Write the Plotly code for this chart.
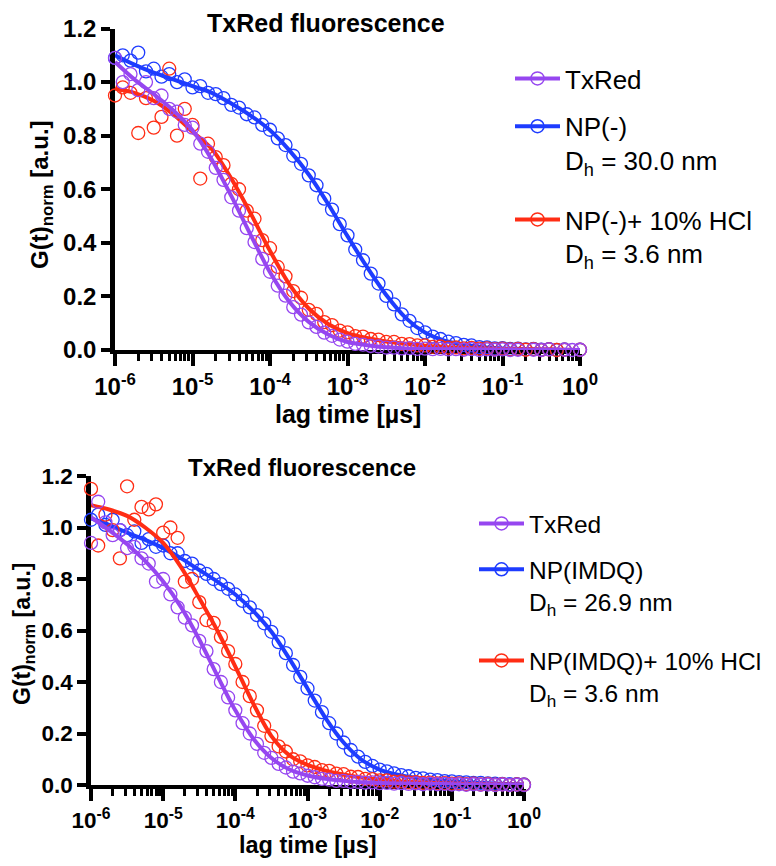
import plotly.graph_objects as go

# The page body has an 8px default margin: the figure is drawn 8px right/down.
OFFSET = 8
W, H = 760, 850
FONT = "Liberation Sans"

PURPLE = "#9646F0"
BLUE = "#1E3CFF"
RED = "#FF2D14"

# lag-time grid (log10 exponents) of the measured points and of the fitted curves
LAG_EXP = [-6.0, -5.9, -5.8, -5.7, -5.6, -5.5, -5.4, -5.3, -5.2, -5.1,
           -5.0, -4.9, -4.8, -4.7, -4.6, -4.5, -4.4, -4.3, -4.2, -4.1,
           -4.0, -3.9, -3.8, -3.7, -3.6, -3.5, -3.4, -3.3, -3.2, -3.1,
           -3.0, -2.9, -2.8, -2.7, -2.6, -2.5, -2.4, -2.3, -2.2, -2.1,
           -2.0, -1.9, -1.8, -1.7, -1.6, -1.5, -1.4, -1.3, -1.2, -1.1,
           -1.0, -0.9, -0.8, -0.7, -0.6, -0.5, -0.4, -0.3, -0.2, -0.1, 0.0]
FIT_EXP = [-6.0, -5.75, -5.5, -5.25, -5.0, -4.75, -4.5, -4.25, -4.0, -3.75,
           -3.5, -3.25, -3.0, -2.75, -2.5, -2.25, -2.0, -1.75, -1.5, -1.25,
           -1.0, -0.75, -0.5, -0.25, 0.0]

X_TICK_VALS = [1e-6, 1e-5, 1e-4, 1e-3, 1e-2, 1e-1, 1e0]
X_TICK_TEXT = ["10<sup>-6</sup>", "10<sup>-5</sup>", "10<sup>-4</sup>", "10<sup>-3</sup>",
               "10<sup>-2</sup>", "10<sup>-1</sup>", "10<sup>0</sup>"]
Y_TICK_VALS = [0.0, 0.2, 0.4, 0.6, 0.8, 1.0, 1.2]

# ---- top panel: TxRed / NP(-) / NP(-)+HCl ----
TOP_TXRED_DATA = [1.09, 1.00, 1.03, 0.97, 1.00, 0.94, 0.95, 0.90, 0.89, 0.84,
                  0.83, 0.77, 0.74, 0.68, 0.635, 0.57, 0.52, 0.455, 0.403, 0.34,
                  0.292, 0.24, 0.203, 0.16, 0.132, 0.103, 0.086, 0.065, 0.053, 0.039,
                  0.031, 0.023, 0.02, 0.015, 0.013, 0.009, 0.009, 0.006, 0.007, 0.004,
                  0.005, 0.003, 0.004, 0.002, 0.003, 0.001, 0.003, 0.0, 0.002, 0.001,
                  0.002, 0.0, 0.001, -0.001, 0.001, 0.0, 0.002, -0.001, 0.001, 0.0, 0.001]
TOP_NP_DATA = [1.09, 1.10, 1.08, 1.11, 1.04, 1.05, 1.02, 1.03, 1.00, 1.01,
               0.98, 0.985, 0.96, 0.955, 0.94, 0.915, 0.905, 0.88, 0.868, 0.84,
               0.822, 0.79, 0.765, 0.725, 0.695, 0.652, 0.615, 0.565, 0.524, 0.47,
               0.428, 0.375, 0.335, 0.285, 0.248, 0.202, 0.17, 0.133, 0.109, 0.082,
               0.066, 0.05, 0.041, 0.031, 0.026, 0.019, 0.017, 0.011, 0.01, 0.006,
               0.007, 0.004, 0.005, 0.002, 0.004, 0.001, 0.003, 0.0, 0.002, -0.001, 0.001]
TOP_HCL_DATA = [0.95, 0.98, 0.96, 0.81, 0.94, 0.83, 0.87, 1.05, 0.80, 0.90,
                0.84, 0.64, 0.77, 0.72, 0.69, 0.62, 0.60, 0.52, 0.49, 0.41,
                0.38, 0.31, 0.275, 0.22, 0.195, 0.15, 0.135, 0.104, 0.093, 0.072,
                0.066, 0.052, 0.05, 0.041, 0.039, 0.03, 0.03, 0.023, 0.022, 0.017,
                0.017, 0.012, 0.013, 0.009, 0.01, 0.006, 0.008, 0.005, 0.006, 0.003,
                0.005, 0.002, 0.004, 0.001, 0.003, 0.0, 0.002, 0.0, 0.001, -0.001, 0.001]
TOP_TXRED_FIT = [1.075, 1.01, 0.955, 0.895, 0.82, 0.71, 0.575, 0.43, 0.29, 0.18,
                 0.105, 0.058, 0.03, 0.018, 0.01, 0.006, 0.004, 0.003, 0.003, 0.002,
                 0.002, 0.001, 0.001, 0.0, 0.0]
TOP_NP_FIT = [1.10, 1.065, 1.035, 1.01, 0.985, 0.96, 0.92, 0.875, 0.82, 0.745,
              0.655, 0.545, 0.425, 0.31, 0.205, 0.12, 0.065, 0.035, 0.02, 0.01,
              0.006, 0.004, 0.002, 0.001, 0.0]
TOP_HCL_FIT = [0.975, 0.96, 0.93, 0.88, 0.815, 0.75, 0.64, 0.51, 0.37, 0.245,
               0.155, 0.097, 0.063, 0.045, 0.032, 0.023, 0.016, 0.011, 0.008, 0.006,
               0.004, 0.003, 0.002, 0.001, 0.0]

# ---- bottom panel: TxRed / NP(IMDQ) / NP(IMDQ)+HCl ----
BOT_TXRED_DATA = [0.94, 1.10, 1.02, 0.97, 0.99, 0.92, 0.925, 0.88, 0.86, 0.79,
                  0.80, 0.74, 0.69, 0.65, 0.62, 0.56, 0.52, 0.45, 0.40, 0.34,
                  0.29, 0.24, 0.20, 0.16, 0.125, 0.105, 0.082, 0.068, 0.052, 0.045,
                  0.036, 0.03, 0.024, 0.021, 0.016, 0.016, 0.012, 0.012, 0.009, 0.01,
                  0.007, 0.008, 0.005, 0.007, 0.004, 0.006, 0.003, 0.005, 0.003, 0.004,
                  0.002, 0.003, 0.001, 0.003, 0.001, 0.002, 0.0, 0.002, 0.0, 0.001, 0.0]
BOT_NP_DATA = [1.03, 1.05, 1.01, 1.03, 0.99, 0.97, 0.985, 0.94, 0.955, 0.925,
               0.93, 0.90, 0.90, 0.87, 0.86, 0.833, 0.82, 0.80, 0.78, 0.762,
               0.74, 0.715, 0.69, 0.66, 0.628, 0.595, 0.555, 0.512, 0.466, 0.42,
               0.375, 0.328, 0.283, 0.24, 0.20, 0.165, 0.136, 0.11, 0.09, 0.074,
               0.06, 0.053, 0.045, 0.038, 0.034, 0.028, 0.026, 0.021, 0.019, 0.015,
               0.014, 0.011, 0.01, 0.008, 0.008, 0.006, 0.005, 0.004, 0.003, 0.003, 0.002]
BOT_HCL_DATA = [1.15, 0.93, 1.05, 0.99, 0.88, 1.16, 1.03, 1.08, 1.07, 1.09,
                0.98, 1.00, 0.96, 0.79, 0.80, 0.71, 0.64, 0.63, 0.575, 0.52,
                0.47, 0.40, 0.345, 0.29, 0.23, 0.19, 0.15, 0.13, 0.10, 0.092,
                0.076, 0.07, 0.058, 0.055, 0.044, 0.042, 0.032, 0.031, 0.024, 0.023,
                0.018, 0.018, 0.013, 0.014, 0.01, 0.011, 0.008, 0.009, 0.006, 0.007,
                0.005, 0.006, 0.003, 0.005, 0.002, 0.004, 0.001, 0.003, 0.0, 0.002, 0.001]
BOT_TXRED_FIT = [1.04, 0.99, 0.935, 0.87, 0.79, 0.69, 0.565, 0.425, 0.29, 0.18,
                 0.105, 0.06, 0.037, 0.024, 0.016, 0.011, 0.008, 0.006, 0.005, 0.004,
                 0.003, 0.002, 0.002, 0.001, 0.0]
BOT_NP_FIT = [1.035, 1.01, 0.98, 0.952, 0.92, 0.88, 0.835, 0.79, 0.74, 0.675,
              0.595, 0.49, 0.375, 0.26, 0.165, 0.098, 0.06, 0.04, 0.028, 0.02,
              0.014, 0.01, 0.007, 0.004, 0.002]
BOT_HCL_FIT = [1.087, 1.07, 1.045, 1.0, 0.94, 0.845, 0.725, 0.6, 0.46, 0.315,
               0.19, 0.115, 0.078, 0.056, 0.041, 0.029, 0.021, 0.015, 0.011, 0.008,
               0.006, 0.004, 0.003, 0.002, 0.001]

TITLE = "TxRed fluorescence"
X_TITLE = "lag time [µs]"
Y_TITLE = "G(t)<sub>norm</sub> [a.u.]"

LABELS_TOP = ["TxRed", "NP(-)<br>D<sub>h</sub> = 30.0 nm", "NP(-)+ 10% HCl<br>D<sub>h</sub> = 3.6 nm"]
LABELS_BOT = ["TxRed", "NP(IMDQ)<br>D<sub>h</sub> = 26.9 nm", "NP(IMDQ)+ 10% HCl<br>D<sub>h</sub> = 3.6 nm"]

# minor tick positions (2..9 within each decade)
MINOR_TICKS = [m * 10.0 ** e for e in range(-6, 0) for m in range(2, 10)]


def fx(p):
    return (p - OFFSET) / W


def fy(p):
    return 1 - (p - OFFSET) / H


lag = [10 ** e for e in LAG_EXP]
fit_lag = [10 ** e for e in FIT_EXP]

panels = [
    dict(xa="x", ya="y", legs=("legend", "legend2"), labels=LABELS_TOP,
         data=(TOP_TXRED_DATA, TOP_NP_DATA, TOP_HCL_DATA),
         fits=(TOP_TXRED_FIT, TOP_NP_FIT, TOP_HCL_FIT)),
    dict(xa="x2", ya="y2", legs=("legend3", "legend4"), labels=LABELS_BOT,
         data=(BOT_TXRED_DATA, BOT_NP_DATA, BOT_HCL_DATA),
         fits=(BOT_TXRED_FIT, BOT_NP_FIT, BOT_HCL_FIT)),
]
colors = (PURPLE, BLUE, RED)

fig = go.Figure()
for pi, p in enumerate(panels):
    # draw order: NP, HCl, TxRed (TxRed on top)
    for si in (1, 2, 0):
        fig.add_trace(go.Scatter(
            x=lag, y=p["data"][si], mode="markers", xaxis=p["xa"], yaxis=p["ya"],
            marker=dict(symbol="circle-open", size=13, color=colors[si], line=dict(width=1.3)),
            cliponaxis=False, showlegend=False, hoverinfo="skip"))
        fig.add_trace(go.Scatter(
            x=fit_lag, y=p["fits"][si], mode="lines", xaxis=p["xa"], yaxis=p["ya"],
            line=dict(color=colors[si], width=4, shape="spline", smoothing=0.8),
            showlegend=False, hoverinfo="skip"))
    # legend entries
    for si in range(3):
        fig.add_trace(go.Scatter(
            x=[None], y=[None], mode="lines+markers", xaxis=p["xa"], yaxis=p["ya"],
            name=p["labels"][si], legend=p["legs"][0] if si < 2 else p["legs"][1],
            legendgroup=f"g{pi}{si}",
            line=dict(color=colors[si], width=4),
            marker=dict(symbol="circle-open", size=13, color=colors[si], line=dict(width=1.5))))


def xaxis_cfg(x0, x1, ysel, fs):
    return dict(type="log", range=[-6, 0], domain=[fx(x0), fx(x1)], anchor=ysel,
                showline=True, linewidth=4, linecolor="black", mirror=False,
                ticks="outside", ticklen=12, tickwidth=3.5, tickcolor="black",
                tickmode="array", tickvals=X_TICK_VALS, ticktext=X_TICK_TEXT,
                tickfont=dict(family=FONT, size=fs, color="black", weight="bold"),
                showgrid=False, zeroline=False, layer="below traces",
                minor=dict(ticks="outside", ticklen=7, tickwidth=3, tickcolor="black",
                           tickmode="array", tickvals=MINOR_TICKS, showgrid=False))


def yaxis_cfg(ytop, ybot, xsel, fs):
    return dict(range=[0, 1.2], domain=[fy(ybot), fy(ytop)], anchor=xsel,
                showline=True, linewidth=4.5, linecolor="black",
                ticks="outside", ticklen=9, tickwidth=4, tickcolor="black",
                tickmode="array", tickvals=Y_TICK_VALS, tickformat=".1f",
                tickfont=dict(family=FONT, size=fs, color="black", weight="bold"),
                showgrid=False, zeroline=False, layer="below traces")


def legend_cfg(x, y, fs, gap):
    return dict(x=fx(x), y=fy(y), xanchor="left", yanchor="top",
                font=dict(family=FONT, size=fs, color="black"),
                bgcolor="rgba(0,0,0,0)", borderwidth=0, valign="top",
                itemwidth=45, tracegroupgap=gap, itemclick=False, itemdoubleclick=False)


def ann(text, x, y, fs, bold=True, angle=0):
    return dict(text=text, x=fx(x), y=fy(y), xref="paper", yref="paper",
                xanchor="center", yanchor="middle", showarrow=False, textangle=angle,
                font=dict(family=FONT, size=fs, color="black",
                          weight="bold" if bold else "normal"))


fig.update_layout(
    width=W, height=H, margin=dict(l=0, r=0, t=0, b=0, pad=0, autoexpand=False),
    paper_bgcolor="white", plot_bgcolor="white",
    xaxis=xaxis_cfg(115, 580, "y", 24),
    yaxis=yaxis_cfg(28.5, 350, "x", 24),
    xaxis2=xaxis_cfg(91, 524, "y2", 22.5),
    yaxis2=yaxis_cfg(476, 785, "x2", 22.5),
    legend=legend_cfg(510, 55, 26, 11),
    legend2=legend_cfg(510, 196, 26, 11),
    legend3=legend_cfg(474, 501, 24.5, 11),
    legend4=legend_cfg(474, 638, 24.5, 11),
    annotations=[
        ann(TITLE, 326, 23, 25),
        ann(TITLE, 302, 468, 24),
        ann(X_TITLE, 348, 414, 25),
        ann(X_TITLE, 308, 845, 23.5),
        ann(Y_TITLE, 42, 195, 24, angle=-90),
        ann(Y_TITLE, 23, 634, 23, angle=-90),
    ],
)

fig.write_html("out.html")
